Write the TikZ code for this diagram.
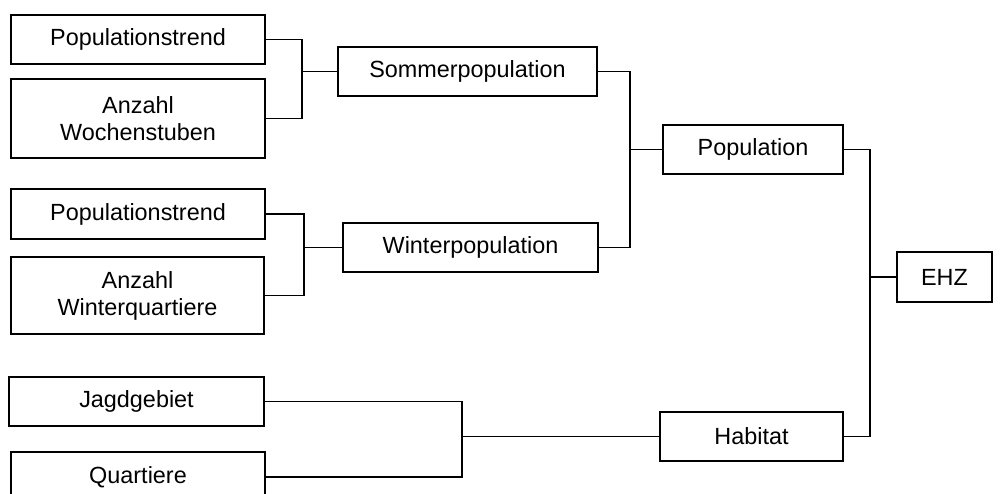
\documentclass[tikz,border=0pt]{standalone}
\usepackage{fontspec}
\setmainfont{Liberation Sans}
\begin{document}
\begin{tikzpicture}[x=1pt,y=-1pt,
  box/.style={draw,rectangle,inner sep=0pt,line width=1.6pt,align=center,
    font=\fontsize{23.4}{27}\selectfont},
  conn/.style={line width=1.6pt,line join=miter}]
\useasboundingbox (0,0) rectangle (1003,493);
\node[box,minimum width=254,minimum height=49] (pt1) at (138,39.5) {Populationstrend};
\node[box,minimum width=254,minimum height=79] (wo) at (138,118.5) {Anzahl\\Wochenstuben};
\node[box,minimum width=259,minimum height=49] (ss) at (467.5,71.5) {Sommerpopulation};
\node[box,minimum width=254,minimum height=50] (pt2) at (138,214) {Populationstrend};
\node[box,minimum width=253,minimum height=77] (wq) at (137.5,295.5) {Anzahl\\Winterquartiere};
\node[box,minimum width=255,minimum height=49] (wi) at (470.5,247.5) {Winterpopulation};
\node[box,minimum width=180,minimum height=49] (po) at (753,149.5) {Population};
\node[box,minimum width=255,minimum height=49] (jg) at (136.5,401.5) {Jagdgebiet};
\node[box,minimum width=254,minimum height=50] (qu) at (138,477) {Quartiere};
\node[box,minimum width=183,minimum height=49] (ha) at (751.5,436.5) {Habitat};
\node[box,minimum width=95,minimum height=50] (ehz) at (944.5,277) {EHZ};
\coordinate (j1) at (302,71.5);
\coordinate (j2) at (304,247.5);
\coordinate (j3) at (630,149.5);
\coordinate (j4) at (462,436.5);
\coordinate (j5) at (870,277);
\draw[conn] (pt1.east) -| (j1) |- (wo.east);
\draw[conn] (j1) -- (ss.west);
\draw[conn] (pt2.east) -| (j2) |- (wq.east);
\draw[conn] (j2) -- (wi.west);
\draw[conn] (ss.east) -| (j3) |- (wi.east);
\draw[conn] (j3) -- (po.west);
\draw[conn] (jg.east) -| (j4) |- (qu.east);
\draw[conn] (j4) -- (ha.west);
\draw[conn] (po.east) -| (j5) |- (ha.east);
\draw[conn] (j5) -- (ehz.west);
\end{tikzpicture}
\end{document}
